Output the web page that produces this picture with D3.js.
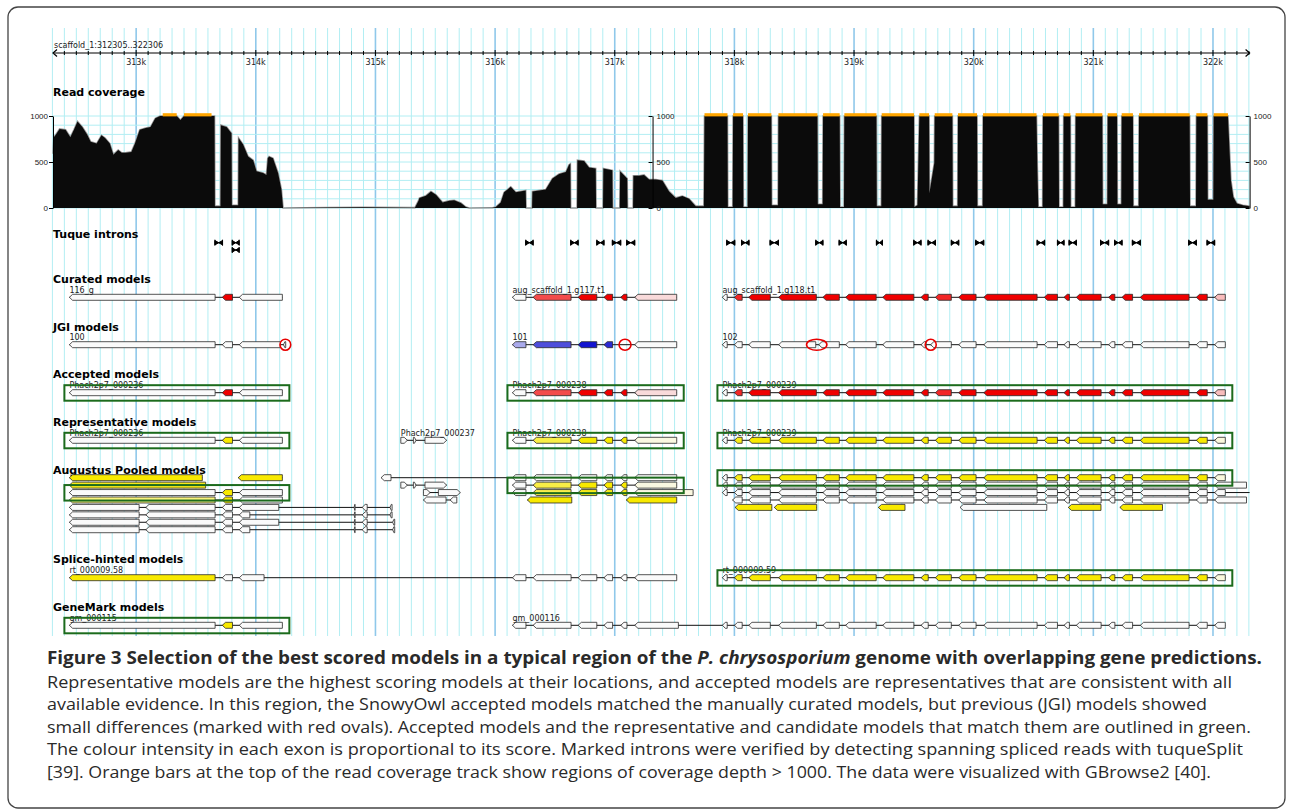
<!DOCTYPE html>
<html>
<head>
<meta charset="utf-8">
<script src="https://cdn.jsdelivr.net/npm/d3@7"></script>
<style>
  body { margin: 0; background: #fff; }
  svg { display: block; }
  .small { font-family: "DejaVu Sans", sans-serif; font-size: 8px; fill: #222; }
  .title { font-family: "DejaVu Sans", sans-serif; font-size: 11px; font-weight: bold; fill: #000; }
  .cap { font-family: "Open Sans", sans-serif; font-size: 17px; fill: #2a2a2a; }
</style>
</head>
<body>
<svg id="fig" width="1293" height="812"></svg>
<script>
// ---- region and ruler (kb) ----
const regionStart = 312.305, regionEnd = 322.306;
const regionName = "scaffold_1:312305..322306";
const rulerTicks = [313, 314, 315, 316, 317, 318, 319, 320, 321, 322];
const depthTicks = [0, 500, 1000];
const coverageAxisAt = [312.305, 317.316, 322.306];

// read coverage, [kb, depth]; depth > 1000 = saturated (orange)
const coverage = [
  [312.305, 590],[312.312, 770],[312.33, 800],[312.36, 860],[312.41, 850],[312.45, 770],[312.48, 850],[312.51, 940],
  [312.55, 880],[312.59, 800],[312.62, 720],[312.67, 700],[312.71, 790],[312.74, 760],[312.78, 700],[312.81, 580],
  [312.85, 630],[312.88, 600],[312.91, 600],[312.96, 610],[312.99, 700],[313.03, 850],[313.08, 870],[313.12, 880],
  [313.16, 975],[313.2, 1000],[313.222, 1100],[313.339, 1100],[313.37, 957],[313.4, 1100],[313.63, 1100],[313.655, 1000],
  [313.658, 20],[313.705, 20],[313.708, 900],[313.756, 880],[313.797, 812],[313.8, 30],[313.853, 30],[313.856, 760],
  [313.894, 690],[313.936, 560],[313.978, 520],[314.006, 400],[314.061, 380],[314.089, 360],[314.1, 540],[314.111, 560],
  [314.144, 540],[314.186, 380],[314.214, 200],[314.228, 0],[314.6, 5],[314.9, 8],[315.33, 4],[315.36, 80],
  [315.367, 108],[315.422, 134],[315.464, 180],[315.506, 144],[315.561, 61],[315.617, 79],[315.658, 83],[315.714, 54],
  [315.756, 10],[315.783, 0],[315.978, 3],[316.006, 10],[316.047, 60],[316.075, 170],[316.131, 230],[316.173, 170],
  [316.256, 190],[316.259, 0],[316.309, 0],[316.312, 180],[316.423, 200],[316.479, 320],[316.535, 370],[316.591, 390],
  [316.618, 470],[316.629, 480],[316.632, 0],[316.685, 0],[316.688, 520],[316.744, 510],[316.785, 440],[316.841, 430],
  [316.844, 0],[316.902, 0],[316.905, 430],[316.98, 410],[316.983, 0],[317.042, 0],[317.045, 400],[317.104, 320],
  [317.107, 0],[317.153, 0],[317.156, 350],[317.203, 350],[317.245, 360],[317.287, 310],[317.343, 310],[317.398, 300],
  [317.454, 180],[317.51, 110],[317.565, 130],[317.621, 100],[317.677, 20],[317.745, 20],[317.75, 1100],[317.942, 1100],
  [317.945, 10],[317.986, 10],[317.989, 1100],[318.072, 1100],[318.075, 10],[318.111, 10],[318.114, 1100],[318.309, 1100],
  [318.312, 30],[318.365, 30],[318.368, 1100],[318.694, 1100],[318.697, 40],[318.738, 40],[318.741, 1100],[318.88, 1100],
  [318.883, 10],[318.916, 10],[318.919, 1100],[319.187, 1100],[319.19, 20],[319.228, 20],[319.231, 1100],[319.501, 1100],
  [319.504, 10],[319.53, 30],[319.546, 1100],[319.627, 1100],[319.63, 160],[319.671, 490],[319.674, 1100],[319.822, 1100],
  [319.825, 20],[319.866, 20],[319.869, 1100],[320.028, 1100],[320.031, 20],[320.075, 20],[320.078, 1100],[320.525, 1100],
  [320.532, 450],[320.54, 10],[320.576, 10],[320.579, 1100],[320.71, 1100],[320.713, 10],[320.749, 10],[320.752, 1100],
  [320.808, 1100],[320.811, 10],[320.849, 10],[320.852, 1100],[321.075, 1100],[321.078, 40],[321.117, 40],[321.12, 1100],
  [321.198, 1100],[321.201, 40],[321.234, 40],[321.237, 1100],[321.331, 1100],[321.334, 20],[321.379, 20],[321.382, 1100],
  [321.805, 1100],[321.808, 20],[321.858, 20],[321.861, 1100],[321.953, 1100],[321.956, 90],[322.003, 90],[322.006, 1100],
  [322.125, 1100],[322.15, 300],[322.17, 120],[322.2, 50],[322.25, 30],[322.306, 20]
];

// tuqueSplit introns [start, end, row]
const tuqueIntrons = [
  [313.658, 313.722, 0], [313.803, 313.861, 0], [313.803, 313.861, 1],
  [316.256, 316.318, 0], [316.632, 316.694, 0], [316.85, 316.91, 0], [316.98, 317.05, 0], [317.1, 317.167, 0],
  [317.936, 318.003, 0], [318.06, 318.122, 0], [318.298, 318.368, 0], [318.68, 318.74, 0], [318.875, 318.935, 0],
  [319.187, 319.237, 0], [319.499, 319.56, 0], [319.618, 319.68, 0], [319.813, 319.875, 0], [320.017, 320.084, 0],
  [320.53, 320.593, 0], [320.7, 320.755, 0], [320.797, 320.858, 0], [321.06, 321.128, 0], [321.178, 321.24, 0],
  [321.326, 321.393, 0], [321.797, 321.861, 0], [321.95, 322.014, 0]
];

// exon structures (kb)
const geneA = [[312.442, 313.66], [313.72, 313.805], [313.862, 314.222]];
const geneB = [[316.145, 316.258], [316.318, 316.635], [316.694, 316.85], [316.91, 316.982], [317.05, 317.102], [317.167, 317.518]];
const geneC = [[317.9, 317.94], [318.0, 318.065], [318.12, 318.3], [318.37, 318.685], [318.74, 318.877], [318.93, 319.185],
  [319.24, 319.5], [319.56, 319.62], [319.68, 319.813], [319.875, 320.02], [320.085, 320.53], [320.59, 320.7],
  [320.755, 320.8], [320.858, 321.065], [321.128, 321.18], [321.24, 321.328], [321.393, 321.8], [321.861, 321.952], [322.014, 322.103]];
const jgiA = [[312.442, 313.66], [313.72, 313.805], [313.862, 314.205], [314.232, 314.25]];
const jgiB = [[316.145, 316.258], [316.318, 316.635], [316.694, 316.85], [316.91, 316.982], [317.167, 317.518]];
const jgiC = [[317.9, 317.94], [318.0, 318.065], [318.12, 318.3], [318.37, 318.68], [318.705, 318.877], [318.93, 319.185],
  [319.24, 319.5], [319.56, 319.603], [319.64, 319.813], [319.875, 320.02], [320.085, 320.53], [320.59, 320.7],
  [320.755, 320.8], [320.858, 321.065], [321.128, 321.18], [321.24, 321.328], [321.393, 321.8], [321.861, 321.952], [322.014, 322.103]];
const model237 = [[315.212, 315.267], [315.317, 315.339], [315.414, 315.595]];
const augPlus2 = [[315.401, 315.457], [315.526, 315.709]];
const augMinus2 = [[315.401, 315.59], [315.624, 315.68]];
const augLongB = [[315.047, 315.13], ...geneB];
const augB3 = [[316.145, 316.258], [316.318, 316.635], [316.694, 316.85], [316.91, 316.982], [317.05, 317.102], [317.167, 317.655]];
const augC2 = [...geneC.slice(0, 18), [322.014, 322.28]];
const augC3 = [...geneC, [322.45, 322.5]];
const augC4 = [[317.985, 318.065], ...geneC.slice(2, 18), [322.014, 322.28]];
const augLong1 = [[312.442, 313.025], [313.081, 313.66], [313.72, 313.805], [313.862, 314.192], [314.822, 314.83], [314.889, 314.931], [315.122, 315.139]];
const augLong2 = [[312.442, 313.025], [313.081, 313.66], [313.72, 313.805], [313.862, 313.95], [314.822, 314.83], [314.889, 314.931], [315.122, 315.139]];
const augLong3 = [[312.442, 313.025], [313.081, 313.66], [313.72, 313.805], [313.862, 314.192], [314.822, 314.83], [314.889, 314.931], [315.144, 315.161]];
const augLong4 = [[312.442, 313.025], [313.081, 313.66], [313.72, 313.805], [313.862, 313.95], [314.822, 314.83], [314.889, 314.931], [315.144, 315.161]];
const rt58 = [[312.442, 313.66], [313.72, 313.805], [313.862, 314.069], ...geneB];
const gm116 = [[316.145, 316.258], [316.318, 316.635], [316.694, 316.85], [316.91, 316.982], [317.05, 317.102], [317.167, 317.532], ...geneC];

// exon scores (colour intensity)
const scoreA = [0, 1, 0];
const scoreCuratedB = [0, 0.7, 1, 1, 1, 0.13];
const scoreCuratedC = [0, 0.85, 1, 1, 1, 1, 1, 1, 0.85, 1, 1, 1, 1, 1, 1, 1, 1, 1, 0.25];
const scoreJgiB = [0.35, 0.75, 1, 0.9, 0];
const scoreRepB = [0, 0.72, 1, 1, 1, 0.1];
const scoreRepC = [0, 0.9, 1, 1, 1, 1, 1, 1, 1, 1, 1, 1, 1, 1, 1, 1, 1, 1, 0.12];

const curatedModels = [
  { label: "116_g", exons: geneA, scores: scoreA, hue: "red" },
  { label: "aug_scaffold_1.g117.t1", exons: geneB, scores: scoreCuratedB, hue: "red" },
  { label: "aug_scaffold_1.g118.t1", exons: geneC, scores: scoreCuratedC, hue: "red" }
];
const jgiModels = [
  { label: "100", exons: jgiA },
  { label: "101", exons: jgiB, scores: scoreJgiB, hue: "blue" },
  { label: "102", exons: jgiC }
];
const jgiOvals = [[314.247, 0.045], [317.086, 0.05], [318.688, 0.085], [319.641, 0.046]];
const acceptedModels = [
  { label: "Phach2p7_000236", exons: geneA, scores: scoreA, hue: "red", boxed: true },
  { label: "Phach2p7_000238", exons: geneB, scores: scoreCuratedB, hue: "red", boxed: true },
  { label: "Phach2p7_000239", exons: geneC, scores: scoreCuratedC, hue: "red", boxed: true }
];
const representativeModels = [
  { label: "Phach2p7_000236", exons: geneA, scores: scoreA, hue: "yellow", boxed: true },
  { label: "Phach2p7_000237", exons: model237, strand: 1 },
  { label: "Phach2p7_000238", exons: geneB, scores: scoreRepB, hue: "yellow", boxed: true },
  { label: "Phach2p7_000239", exons: geneC, scores: scoreRepC, hue: "yellow", boxed: true }
];
const augustusModels = [
  { row: 0, exons: [[312.442, 313.553]], scores: [1], hue: "yellow" },
  { row: 0, exons: [[313.853, 314.222]], scores: [1], hue: "yellow" },
  { row: 0, exons: augLongB },
  { row: 0, exons: geneC, scores: scoreRepC, hue: "yellow", boxed: true },
  { row: 1, exons: [[312.442, 313.581]], scores: [0.9], hue: "yellow" },
  { row: 1, exons: model237, strand: 1 },
  { row: 1, exons: geneB, scores: scoreRepB, hue: "yellow", boxed: true },
  { row: 1, exons: augC2 },
  { row: 2, exons: geneA, scores: scoreA, hue: "yellow", boxed: true },
  { row: 2, exons: augPlus2, strand: 1 },
  { row: 2, exons: augB3, scores: [0, 0.7, 0.9, 0.9, 0.9, 0.1], hue: "yellow" },
  { row: 2, exons: augC3 },
  { row: 3, exons: geneA, scores: [0.5, 1, 0], hue: "yellow" },
  { row: 3, exons: augMinus2 },
  { row: 3, exons: [[316.27, 316.641]], scores: [1], hue: "yellow" },
  { row: 3, exons: [[317.097, 317.518]], scores: [1], hue: "yellow" },
  { row: 3, exons: augC4 },
  { row: 4, exons: augLong1 },
  { row: 4, exons: [[318.006, 318.313]], scores: [1], hue: "yellow" },
  { row: 4, exons: [[318.334, 318.688]], scores: [1], hue: "yellow" },
  { row: 4, exons: [[319.203, 319.426]], scores: [1], hue: "yellow" },
  { row: 4, exons: [[319.886, 320.611]] },
  { row: 4, exons: [[320.791, 321.064]], scores: [1], hue: "yellow" },
  { row: 4, exons: [[321.222, 321.578]], scores: [1], hue: "yellow" },
  { row: 5, exons: augLong2 },
  { row: 6, exons: augLong3 },
  { row: 7, exons: augLong4 }
];
const spliceModels = [
  { label: "rt_000009.58", exons: rt58, scores: [1, 0, 0, 0, 0, 0, 0, 0, 0], hue: "yellow" },
  { label: "rt_000009.59", exons: geneC, scores: scoreRepC, hue: "yellow", boxed: true }
];
const genemarkModels = [
  { label: "gm_000115", exons: geneA, scores: scoreA, hue: "yellow", boxed: true },
  { label: "gm_000116", exons: gm116 }
];

const trackTitles = ["Read coverage", "Tuque introns", "Curated models", "JGI models", "Accepted models",
  "Representative models", "Augustus Pooled models", "Splice-hinted models", "GeneMark models"];

const captionTitle = ["Figure 3 Selection of the best scored models in a typical region of the ", "P. chrysosporium",
  " genome with overlapping gene predictions."];
const captionBody = [
  "Representative models are the highest scoring models at their locations, and accepted models are representatives that are consistent with all",
  "available evidence. In this region, the SnowyOwl accepted models matched the manually curated models, but previous (JGI) models showed",
  "small differences (marked with red ovals). Accepted models and the representative and candidate models that match them are outlined in green.",
  "The colour intensity in each exon is proportional to its score. Marked introns were verified by detecting spanning spliced reads with tuqueSplit",
  "[39]. Orange bars at the top of the read coverage track show regions of coverage depth > 1000. The data were visualized with GBrowse2 [40]."
];

// ---- layout ----
const svg = d3.select("#fig");
const x = d3.scaleLinear().domain([regionStart, regionEnd]).range([53, 1249.6]);
const yCov = d3.scaleLinear().domain([0, 1000]).range([208, 116]);
const gridTop = 28, gridBottom = 636;
const titleY = [96, 238, 283, 330.5, 378, 426, 474, 563, 610.5];
const intronRowY = [242.7, 250];
const rowY = {
  curated: [297.3], jgi: [344.7], accepted: [392.7], representative: [440.3],
  augustus: d3.range(8).map(i => 477.7 + i * 7.43), splice: [577.7], genemark: [625.3]
};
const hues = { red: "#f00000", yellow: "#f8e900", blue: "#1414d0" };
const fillFor = (hue, s) => hue ? d3.interpolateRgb("#fafafa", hues[hue])(s) : "#fafafa";

svg.append("rect").attr("width", 1293).attr("height", 812).attr("fill", "#fff");

// ---- grid ----
const gridKb = d3.range(3123, 3224).map(d => d / 10);
const isMajor = d => Math.abs(d - Math.round(d)) < 1e-6;
svg.append("g").selectAll("line").data(gridKb).join("line")
  .attr("x1", d => x(d)).attr("x2", d => x(d))
  .attr("y1", gridTop).attr("y2", gridBottom)
  .attr("stroke", d => isMajor(d) ? "#8fc8ea" : "#b2eef3")
  .attr("stroke-width", d => isMajor(d) ? 1.6 : 1);

svg.append("g").selectAll("line").data(d3.range(0, 1001, 100)).join("line")
  .attr("x1", x(regionStart)).attr("x2", x(regionEnd))
  .attr("y1", d => yCov(d)).attr("y2", d => yCov(d))
  .attr("stroke", "#b2eef3");

// ---- ruler ----
const ruler = svg.append("g");
ruler.append("text").attr("class", "small").attr("x", 54).attr("y", 47.5).text(regionName);
ruler.append("line").attr("x1", x(regionStart)).attr("x2", x(regionEnd)).attr("y1", 53).attr("y2", 53)
  .attr("stroke", "#000").attr("stroke-width", 1.2);
ruler.append("path").attr("fill", "none").attr("stroke", "#000").attr("stroke-width", 1.2)
  .attr("d", `M${x(regionStart) + 4},49.5L${x(regionStart)},53L${x(regionStart) + 4},56.5M${x(regionEnd) - 4},49.5L${x(regionEnd)},53L${x(regionEnd) - 4},56.5`);
ruler.selectAll("line.t").data(d3.range(3124, 3224).map(d => d / 10)).join("line").attr("class", "t")
  .attr("x1", d => x(d)).attr("x2", d => x(d))
  .attr("y1", d => isMajor(d) ? 50 : 51).attr("y2", d => isMajor(d) ? 56 : 55)
  .attr("stroke", "#000");
ruler.selectAll("text.k").data(rulerTicks).join("text").attr("class", "small k")
  .attr("x", d => x(d)).attr("y", 65).attr("text-anchor", "middle").text(d => d + "k");

// ---- titles ----
svg.append("g").selectAll("text").data(trackTitles).join("text")
  .attr("class", "title").attr("x", 53).attr("y", (d, i) => titleY[i]).text(d => d);

// ---- coverage ----
const covLine = d3.line().x(d => x(d[0])).y(d => yCov(Math.min(d[1], 1000)));
const covArea = d3.area().x(d => x(d[0])).y0(yCov(0)).y1(d => yCov(Math.min(d[1], 1000)));
svg.append("path").datum(coverage).attr("d", covLine).attr("fill", "none").attr("stroke", "#9a9a9a").attr("stroke-width", 1.6);
svg.append("path").datum(coverage).attr("d", covArea).attr("fill", "#0b0b0b");
const highSegs = d3.pairs(coverage).filter(([a, b]) => a[1] > 1000 && b[1] > 1000);
svg.append("g").selectAll("rect").data(highSegs).join("rect")
  .attr("x", d => x(d[0][0])).attr("width", d => x(d[1][0]) - x(d[0][0]))
  .attr("y", yCov(1000) - 2.8).attr("height", 3.2).attr("fill", "#ffa600");

coverageAxisAt.forEach((kb, i) => {
  const g = svg.append("g").attr("transform", `translate(${x(kb)},0)`).attr("font-family", "DejaVu Sans");
  const minor = i === 0 ? d3.axisLeft(yCov).tickSize(3) : d3.axisRight(yCov).tickSizeInner(-3);
  g.call(minor.tickValues(d3.range(0, 1001, 100)).tickFormat("").tickSizeOuter(0));
  const major = i === 0 ? d3.axisLeft(yCov).tickSize(4).tickPadding(1)
                        : d3.axisRight(yCov).tickSizeInner(-4).tickPadding(4);
  g.call(major.tickValues(depthTicks).tickFormat(d3.format("d")).tickSizeOuter(0));
  g.selectAll("text").attr("font-size", 8).attr("fill", "#222");
  g.selectAll("path,line").attr("stroke", "#000");
});

// ---- tuque introns ----
svg.append("g").selectAll("path").data(tuqueIntrons).join("path")
  .attr("d", d => {
    const x0 = x(d[0]), x1 = x(d[1]), m = (x0 + x1) / 2, y = intronRowY[d[2]];
    return `M${x0},${y - 3}V${y + 3}M${x1},${y - 3}V${y + 3}M${x0},${y}H${x1}` +
      `M${x0},${y - 2.2}L${m},${y}L${x0},${y + 2.2}ZM${x1},${y - 2.2}L${m},${y}L${x1},${y + 2.2}Z`;
  })
  .attr("stroke", "#000").attr("stroke-width", 1).attr("fill", "#000");

// ---- gene models ----
svg.append("clipPath").attr("id", "clipTracks").append("rect")
  .attr("x", x(regionStart)).attr("y", 260).attr("width", x(regionEnd) - x(regionStart)).attr("height", 380);
const modelsG = svg.append("g").attr("clip-path", "url(#clipTracks)");
const labelsG = svg.append("g");
const boxesG = svg.append("g");

function exonPath(s, e, yc, strand) {
  const x0 = x(s), x1 = x(e), h = 3, p = Math.min(3.2, (x1 - x0) * 0.6);
  if (strand > 0) return `M${x1},${yc}L${x1 - p},${yc - h}L${x0},${yc - h}L${x0},${yc + h}L${x1 - p},${yc + h}Z`;
  return `M${x0},${yc}L${x0 + p},${yc - h}L${x1},${yc - h}L${x1},${yc + h}L${x0 + p},${yc + h}Z`;
}

function drawTrack(models, track) {
  models.forEach(m => {
    const yc = rowY[track][m.row || 0];
    const ends = m.exons.flat();
    const s = d3.min(ends), e = d3.max(ends);
    const g = modelsG.append("g");
    g.append("line").attr("x1", x(s)).attr("x2", x(e)).attr("y1", yc).attr("y2", yc).attr("stroke", "#111");
    g.selectAll("path").data(m.exons).join("path")
      .attr("d", d => exonPath(d[0], d[1], yc, m.strand || -1))
      .attr("fill", (d, i) => fillFor(m.hue, m.scores ? m.scores[i] : 0))
      .attr("stroke", "#2a2a2a").attr("stroke-width", 0.8);
    if (m.label) labelsG.append("text").attr("class", "small").attr("x", x(s)).attr("y", yc - 4.6).text(m.label);
    if (m.boxed) boxesG.append("rect")
      .attr("x", x(s) - 5).attr("y", yc - 7.5).attr("width", x(e) - x(s) + 12).attr("height", 15.5)
      .attr("fill", "none").attr("stroke", "#1c6b1c").attr("stroke-width", 2);
  });
}
drawTrack(curatedModels, "curated");
drawTrack(jgiModels, "jgi");
drawTrack(acceptedModels, "accepted");
drawTrack(representativeModels, "representative");
drawTrack(augustusModels, "augustus");
drawTrack(spliceModels, "splice");
drawTrack(genemarkModels, "genemark");

svg.append("g").selectAll("ellipse").data(jgiOvals).join("ellipse")
  .attr("cx", d => x(d[0])).attr("cy", rowY.jgi[0])
  .attr("rx", d => x(d[0] + d[1]) - x(d[0])).attr("ry", 5.5)
  .attr("fill", "none").attr("stroke", "#e80000").attr("stroke-width", 1.6);

// ---- caption ----
const capWidths = [1215, 1185, 1160, 1204, 1196, 1164];
const capBase = [664, 687.5, 710, 732.5, 755, 777.5];
const t1 = svg.append("text").attr("class", "cap").attr("x", 47).attr("y", capBase[0])
  .attr("font-weight", "bold").attr("fill", "#1a1a1a")
  .attr("textLength", capWidths[0]).attr("lengthAdjust", "spacingAndGlyphs");
captionTitle.forEach((s, i) => t1.append("tspan").attr("font-style", i === 1 ? "italic" : "normal").text(s));
svg.append("g").selectAll("text").data(captionBody).join("text").attr("class", "cap")
  .attr("x", 47).attr("y", (d, i) => capBase[i + 1])
  .attr("textLength", (d, i) => capWidths[i + 1]).attr("lengthAdjust", "spacingAndGlyphs")
  .text(d => d);

// ---- frame ----
svg.append("rect").attr("x", 8).attr("y", 7).attr("width", 1277).attr("height", 801).attr("rx", 10)
  .attr("fill", "none").attr("stroke", "#444").attr("stroke-width", 1.3);
</script>
</body>
</html>
